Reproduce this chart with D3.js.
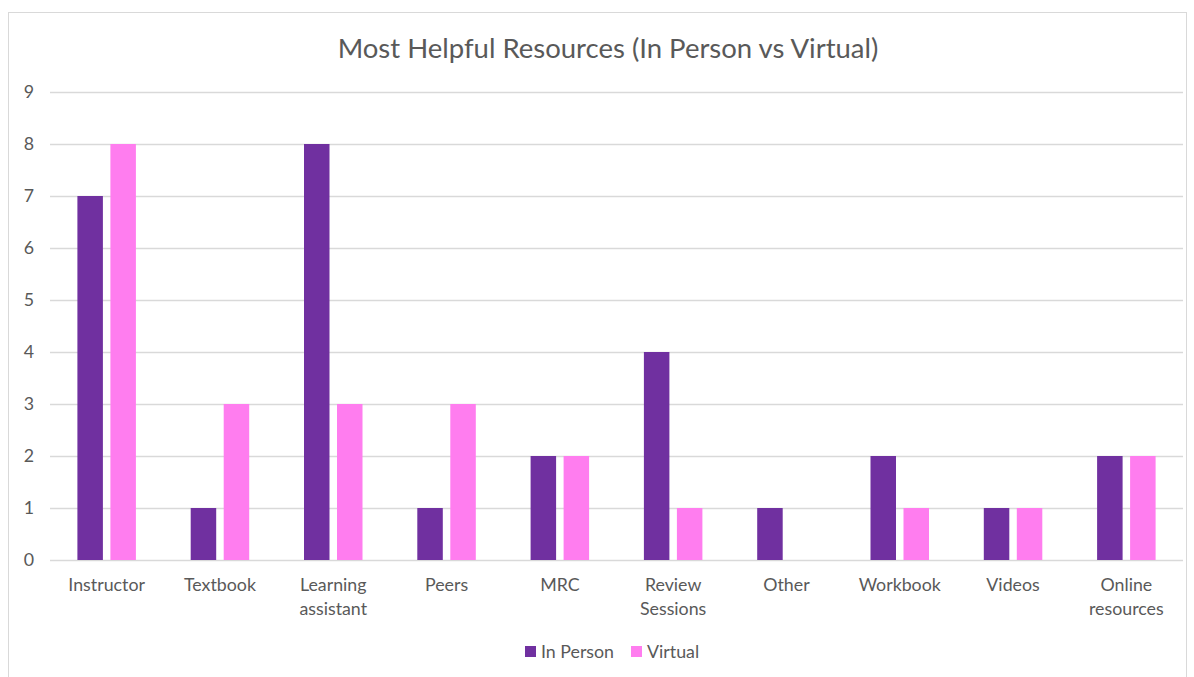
<!DOCTYPE html>
<html>
<head>
<meta charset="utf-8">
<script src="https://cdn.jsdelivr.net/npm/d3@7"></script>
<style>
  body { margin: 0; background: #fff; }
  #chart { width: 1194px; height: 677px; }
</style>
</head>
<body>
<div id="chart"></div>
<script>
const categories = ["Instructor", "Textbook", "Learning assistant", "Peers", "MRC",
    "Review Sessions", "Other", "Workbook", "Videos", "Online resources"];
const inPerson = [7, 1, 8, 1, 2, 4, 1, 2, 1, 2];
const virtual = [8, 3, 3, 3, 2, 1, 0, 1, 1, 2];
const seriesNames = ["In Person", "Virtual"];
const yTicks = [0, 1, 2, 3, 4, 5, 6, 7, 8, 9];

function drawChart() {
    const div_id = "#chart";
    const W = 1194, H = 677;
    const colors = ["#7030A0", "#FF7DEF"];
    const font = "Lato, 'Open Sans', sans-serif";
    const textColor = "#595959";
    const fs = 17.8;

    let svg = d3.select(div_id).append("svg")
        .attr("width", W)
        .attr("height", H);

    // chart frame
    svg.append("rect")
        .attr("x", 8.5).attr("y", 12.5)
        .attr("width", W - 16).attr("height", H)
        .attr("fill", "white")
        .attr("stroke", "#d9d9d9");

    let margin = {top: 92, left: 50, right: 11, bottom: 117};

    let x0 = d3.scaleBand()
        .domain(categories)
        .range([margin.left, W - margin.right])
        .paddingInner(0)
        .paddingOuter(0);

    let y = d3.scaleLinear()
        .domain([0, 9])
        .range([H - margin.bottom, margin.top]);

    // gridlines
    svg.append("g").selectAll("line")
        .data(yTicks)
        .enter().append("line")
        .attr("x1", margin.left).attr("x2", W - margin.right)
        .attr("y1", d => Math.round(y(d)) + 0.5)
        .attr("y2", d => Math.round(y(d)) + 0.5)
        .attr("stroke", "#d9d9d9")
        .attr("stroke-width", 1.5);

    // y labels
    svg.append("g").selectAll("text")
        .data(yTicks)
        .enter().append("text")
        .attr("x", 34)
        .attr("y", d => y(d))
        .attr("dy", "0.35em")
        .attr("text-anchor", "end")
        .attr("font-family", font)
        .attr("font-size", fs)
        .attr("fill", textColor)
        .text(d => d);

    // bars
    const barW = 25.5, gap = 7.5;
    let x1 = d3.scaleOrdinal()
        .domain(seriesNames)
        .range([-(gap / 2 + barW), gap / 2]);

    const series = [inPerson, virtual];
    series.forEach(function (vals, si) {
        svg.append("g").selectAll("rect")
            .data(vals.map((v, i) => ({cat: categories[i], v: v})))
            .enter().append("rect")
            .filter(d => d.v > 0)
            .attr("x", d => x0(d.cat) + x0.bandwidth() / 2 + x1(seriesNames[si]))
            .attr("y", d => y(d.v))
            .attr("width", barW)
            .attr("height", d => y(0) - y(d.v))
            .attr("fill", colors[si]);
    });

    // x labels
    let xl = svg.append("g").selectAll("text")
        .data(categories)
        .enter().append("text")
        .attr("x", d => x0(d) + x0.bandwidth() / 2)
        .attr("y", 591)
        .attr("text-anchor", "middle")
        .attr("font-family", font)
        .attr("font-size", fs)
        .attr("fill", textColor);
    xl.each(function (d) {
        let parts = d.split(" ");
        let t = d3.select(this);
        parts.forEach((p, i) => {
            t.append("tspan")
                .attr("x", x0(d) + x0.bandwidth() / 2)
                .attr("dy", i === 0 ? 0 : 23.5)
                .text(p);
        });
    });

    // title
    svg.append("text")
        .attr("x", 608)
        .attr("y", 58)
        .attr("text-anchor", "middle")
        .attr("font-family", font)
        .attr("font-size", 27.5)
        .attr("fill", textColor)
        .text("Most Helpful Resources (In Person vs Virtual)");

    // legend
    let legX = [525, 631];
    let leg = svg.append("g").selectAll("g")
        .data(seriesNames)
        .enter().append("g")
        .attr("transform", (d, i) => "translate(" + legX[i] + ",646)");
    leg.append("rect")
        .attr("width", 11).attr("height", 11)
        .attr("fill", (d, i) => colors[i]);
    leg.append("text")
        .attr("x", 16).attr("y", 5.5)
        .attr("dy", "0.35em")
        .attr("font-family", font)
        .attr("font-size", fs)
        .attr("fill", textColor)
        .text(d => d);
}
drawChart();
</script>
</body>
</html>
